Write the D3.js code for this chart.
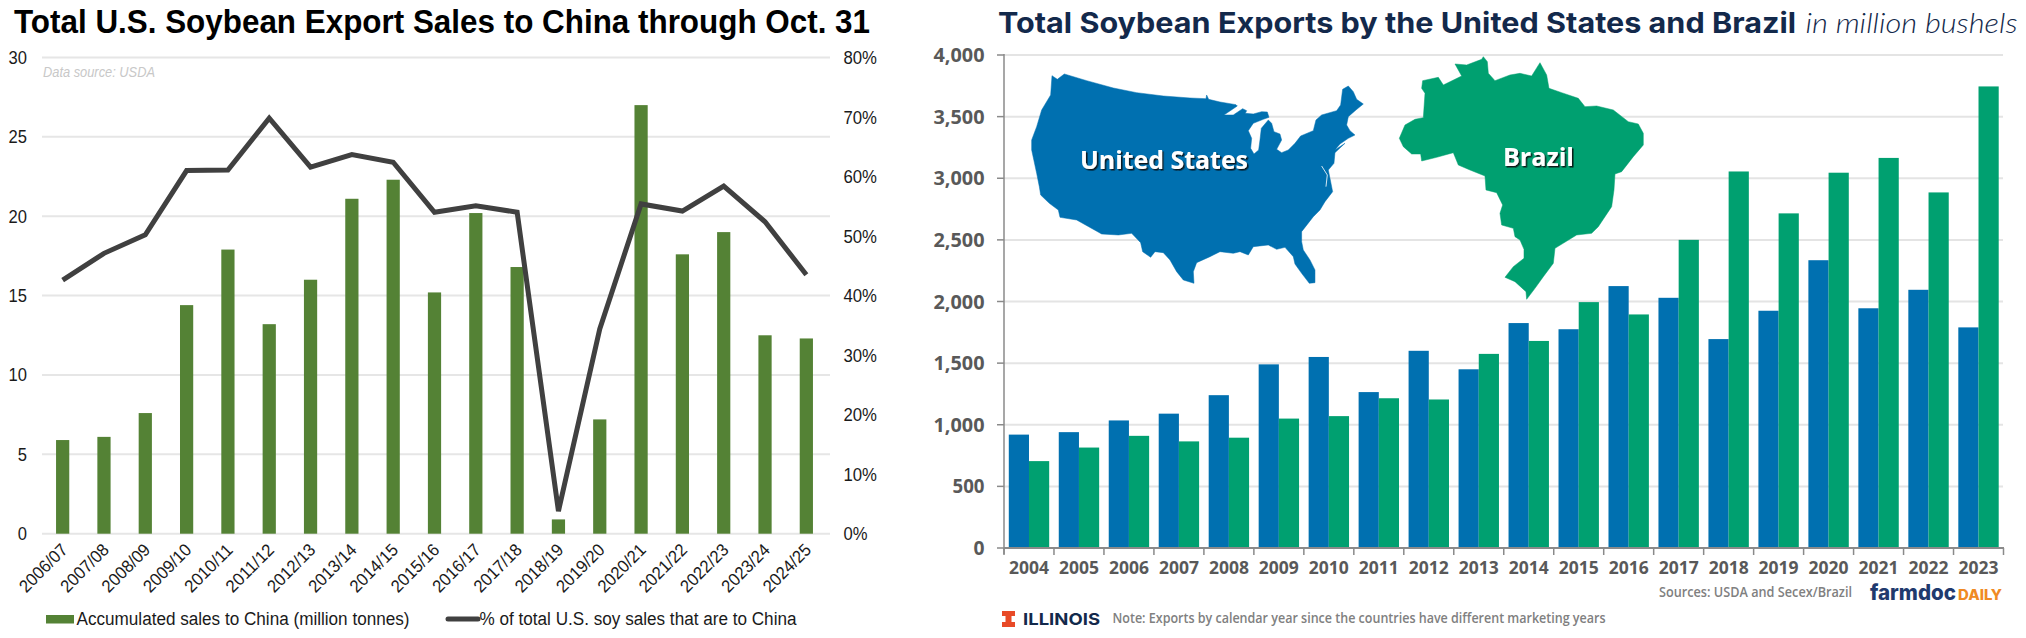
<!DOCTYPE html>
<html><head><meta charset="utf-8">
<script src="https://cdn.jsdelivr.net/npm/d3@7"></script>
<style>html,body{margin:0;padding:0;background:#fff}svg{display:block}</style></head>
<body><svg id="c" width="2026" height="638"></svg>
<script>
const seasons=["2006/07","2007/08","2008/09","2009/10","2010/11","2011/12","2012/13","2013/14","2014/15","2015/16","2016/17","2017/18","2018/19","2019/20","2020/21","2021/22","2022/23","2023/24","2024/25"];
const chinaSales=[5.9,6.1,7.6,14.4,17.9,13.2,16,21.1,22.3,15.2,20.2,16.8,0.9,7.2,27,17.6,19,12.5,12.3];
const chinaShare=[42.6,47.1,50.2,61,61.1,69.8,61.6,63.7,62.4,54,55.1,54,3.8,34.4,55.4,54.2,58.4,52.4,43.5];
const salesTicks=[0,5,10,15,20,25,30];
const shareTicks=[0,10,20,30,40,50,60,70,80];
const years=["2004","2005","2006","2007","2008","2009","2010","2011","2012","2013","2014","2015","2016","2017","2018","2019","2020","2021","2022","2023"];
const usExports=[920,940,1035,1090,1240,1490,1550,1265,1600,1450,1825,1775,2125,2030,1695,1925,2335,1945,2095,1790];
const brazilExports=[705,815,910,865,895,1050,1070,1215,1205,1575,1680,1995,1895,2500,3055,2715,3045,3165,2885,3745];
const bushelTicks=[0,500,1000,1500,2000,2500,3000,3500,4000];
const usOutline=[[133,42],[200,62],[280,84],[350,98],[430,108],[510,114],[558,116],[560,105],[566,118],[600,126],[648,134],[652,138],[612,165],[640,165],[668,146],[680,152],[676,160],[700,162],[725,155],[742,156],[747,172],[730,178],[700,190],[685,212],[695,235],[692,265],[702,282],[716,270],[720,240],[724,205],[745,180],[755,190],[762,215],[780,222],[785,240],[770,268],[785,278],[805,270],[825,250],[842,228],[880,212],[888,180],[905,165],[950,152],[962,135],[968,88],[985,78],[1000,95],[1010,118],[1030,132],[1008,150],[985,170],[980,195],[990,212],[1005,225],[985,235],[960,252],[945,270],[975,250],[945,278],[942,310],[925,330],[930,355],[938,395],[915,425],[900,450],[880,470],[845,515],[845,545],[850,570],[870,600],[885,630],[885,668],[868,670],[845,640],[825,612],[820,590],[795,562],[770,568],[745,555],[700,560],[685,585],[660,575],[640,580],[600,575],[570,590],[530,608],[520,635],[522,670],[490,660],[470,635],[450,600],[430,578],[405,575],[392,592],[368,575],[362,548],[335,520],[295,525],[245,522],[170,480],[120,472],[115,450],[88,430],[62,405],[58,380],[50,340],[35,270],[35,240],[50,200],[65,150],[92,105],[96,47],[112,58],[133,42]];
const brazilOutline=[[310,20],[322,35],[325,70],[345,92],[390,75],[420,70],[455,78],[480,38],[500,75],[507,115],[545,128],[595,145],[615,170],[650,168],[700,180],[745,215],[775,222],[790,250],[790,285],[760,320],[725,365],[705,372],[702,420],[695,470],[655,530],[635,550],[590,555],[525,595],[520,640],[490,680],[465,715],[440,748],[438,725],[405,695],[375,682],[400,650],[432,625],[432,598],[420,570],[405,560],[400,535],[365,525],[360,490],[368,465],[350,428],[318,420],[315,378],[270,360],[235,345],[220,308],[170,322],[125,333],[122,312],[95,312],[70,290],[58,265],[75,225],[105,208],[130,203],[135,130],[125,115],[128,92],[175,82],[190,105],[245,78],[225,42],[260,45],[305,28]];
const BLUE="#0070b0",GREEN="#00a070",NAVY="#13294b";
const svg=d3.select("#c");
svg.append("defs").append("filter").attr("id","sh").attr("x","-10%").attr("y","-20%").attr("width","120%").attr("height","150%")
  .append("feDropShadow").attr("dx",1.5).attr("dy",1.5).attr("stdDeviation",0.6).attr("flood-color","#111").attr("flood-opacity",0.9);
function txt(x,y,s,o={}){const t=svg.append("text").attr("x",x).attr("y",y).text(s)
  .attr("font-family",o.ff||"Liberation Sans").attr("font-size",o.fs||16).attr("fill",o.c||"#000")
  .attr("font-weight",o.w||400).attr("font-style",o.st||"normal").attr("text-anchor",o.a||"start");
  if(o.len){t.attr("textLength",o.len).attr("lengthAdjust","spacingAndGlyphs");}
  return t;}

/* LEFT */
const lx=d3.scaleBand().domain(seasons).range([42,827]).paddingInner(0.68).paddingOuter(0.34);
const ly=d3.scaleLinear().domain([0,30]).range([533.7,57.5]);
const ly2=d3.scaleLinear().domain([0,80]).range([533.7,57.5]);
const L=svg.append("g");
L.selectAll("line.g").data(salesTicks).join("line").attr("x1",42).attr("x2",830).attr("y1",d=>ly(d)).attr("y2",d=>ly(d)).attr("stroke","#e6e6e6").attr("stroke-width",2);
L.selectAll("rect").data(chinaSales).join("rect").attr("x",(d,i)=>lx(seasons[i])).attr("width",lx.bandwidth()).attr("y",d=>ly(d)).attr("height",d=>ly(0)-ly(d)).attr("fill","#548235");
L.append("path").attr("d",d3.line().x((d,i)=>lx(seasons[i])+lx.bandwidth()/2).y(d=>ly2(d))(chinaShare)).attr("fill","none").attr("stroke","#404040").attr("stroke-width",5).attr("stroke-linejoin","miter");
salesTicks.forEach(d=>txt(27,ly(d)+6.5,d,{fs:18,a:"end",c:"#1a1a1a",len:String(d).length*9.2}));
shareTicks.forEach(d=>txt(843.5,ly2(d)+6.5,d+"%",{fs:18,c:"#1a1a1a",len:d?33.5:24}));
seasons.forEach(s=>{const cx=lx(s)+lx.bandwidth()/2+6;
  txt(0,0,s,{fs:17.5,a:"end",c:"#1a1a1a",len:60}).attr("transform",`translate(${cx},551) rotate(-45)`);});
txt(14,33,"Total U.S. Soybean Export Sales to China through Oct. 31",{fs:33,w:700,len:856});
txt(43,77,"Data source: USDA",{fs:14.5,st:"italic",c:"#c8c8c8",len:112});
svg.append("rect").attr("x",46).attr("y",615).attr("width",28).attr("height",8.5).attr("fill","#548235");
txt(76.5,625,"Accumulated sales to China (million tonnes)",{fs:18,c:"#1a1a1a",len:333});
svg.append("line").attr("x1",448).attr("x2",478).attr("y1",619).attr("y2",619).attr("stroke","#404040").attr("stroke-width",5).attr("stroke-linecap","round");
txt(479.5,625,"% of total U.S. soy sales that are to China",{fs:18,c:"#1a1a1a",len:317});

/* RIGHT */
const rx=d3.scaleBand().domain(years).range([1004,2003.5]);
const ry=d3.scaleLinear().domain([0,4000]).range([548,55]);
const R=svg.append("g");
R.selectAll("line.g").data(bushelTicks.slice(1)).join("line").attr("x1",1004).attr("x2",2003).attr("y1",d=>ry(d)).attr("y2",d=>ry(d)).attr("stroke","#e4e4e4").attr("stroke-width",2);
const line=d3.line();
const mapG=R.append("g").attr("transform","translate(1020,60) scale(0.3333)");
mapG.append("path").attr("d",line(usOutline)+"Z").attr("fill",BLUE).attr("stroke",BLUE).attr("stroke-width",1.5);
mapG.append("path").attr("d","M905,318L922,345L918,380").attr("fill","none").attr("stroke","#fff").attr("stroke-width",2.5);
const brG=R.append("g").attr("transform","translate(1380,50) scale(0.3333)");
brG.append("path").attr("d",line(brazilOutline)+"Z").attr("fill",GREEN).attr("stroke",GREEN).attr("stroke-width",1.5);
const w=20.2;
R.selectAll("rect.u").data(usExports).join("rect").attr("class","u").attr("x",(d,i)=>rx(years[i])+rx.bandwidth()/2-w).attr("width",w).attr("y",d=>ry(d)).attr("height",d=>ry(0)-ry(d)).attr("fill",BLUE);
R.selectAll("rect.b").data(brazilExports).join("rect").attr("class","b").attr("x",(d,i)=>rx(years[i])+rx.bandwidth()/2).attr("width",w).attr("y",d=>ry(d)).attr("height",d=>ry(0)-ry(d)).attr("fill",GREEN);
const AX="#8a8a8a";
R.append("line").attr("x1",1004).attr("x2",1004).attr("y1",54).attr("y2",554).attr("stroke",AX).attr("stroke-width",1.5);
R.append("line").attr("x1",1004).attr("x2",2004).attr("y1",548).attr("y2",548).attr("stroke",AX).attr("stroke-width",2);
bushelTicks.forEach(d=>{R.append("line").attr("x1",997).attr("x2",1004).attr("y1",ry(d)).attr("y2",ry(d)).attr("stroke",AX).attr("stroke-width",1.5);
  const s=d3.format(",")(d);
  txt(984.5,ry(d)+7,s,{ff:"Open Sans",fs:19,w:700,a:"end",c:"#595959",len:d>=1000?51:(d>0?32:11)});});
years.concat(["end"]).forEach((y,i)=>{const x=1004+i*rx.bandwidth();R.append("line").attr("x1",x).attr("x2",x).attr("y1",548).attr("y2",555).attr("stroke",AX).attr("stroke-width",1.5);});
years.forEach(y=>txt(rx(y)+rx.bandwidth()/2,574,y,{ff:"Open Sans",fs:18.5,w:700,a:"middle",c:"#595959",len:40}));
txt(998,33,"Total Soybean Exports by the United States and Brazil",{ff:"Inter",fs:28.5,w:700,c:NAVY,len:798});
txt(1805.5,33,"in million bushels",{ff:"Lato",fs:28,w:300,st:"italic",c:NAVY,len:212});
txt(1080,169,"United States",{ff:"Open Sans",fs:25,w:700,c:"#fff",len:168}).attr("filter","url(#sh)");
txt(1503,166,"Brazil",{ff:"Open Sans",fs:25,w:700,c:"#fff",len:71}).attr("filter","url(#sh)");
txt(1659,597,"Sources: USDA and Secex/Brazil",{ff:"Open Sans",fs:13.5,w:600,c:"#808080",len:193});
txt(1870,600,"farmdoc",{ff:"Inter",fs:21,w:800,c:"#1f3a6e",len:86});
txt(1958,600,"DAILY",{ff:"Inter",fs:14,w:800,c:"#f08a24",len:44});
txt(1112.5,623,"Note: Exports by calendar year since the countries have different marketing years",{ff:"Open Sans",fs:15,w:600,c:"#808080",len:493});
txt(1023,625,"ILLINOIS",{ff:"Inter",fs:16.5,w:700,c:NAVY,len:77});
const blockI=[[1002,611],[1015,611],[1015,616],[1011.5,616],[1011.5,622],[1015,622],[1015,627],[1002,627],[1002,622],[1005.5,622],[1005.5,616],[1002,616]];
svg.append("path").attr("d",line(blockI)+"Z").attr("fill","#e84a27");
</script></body></html>
